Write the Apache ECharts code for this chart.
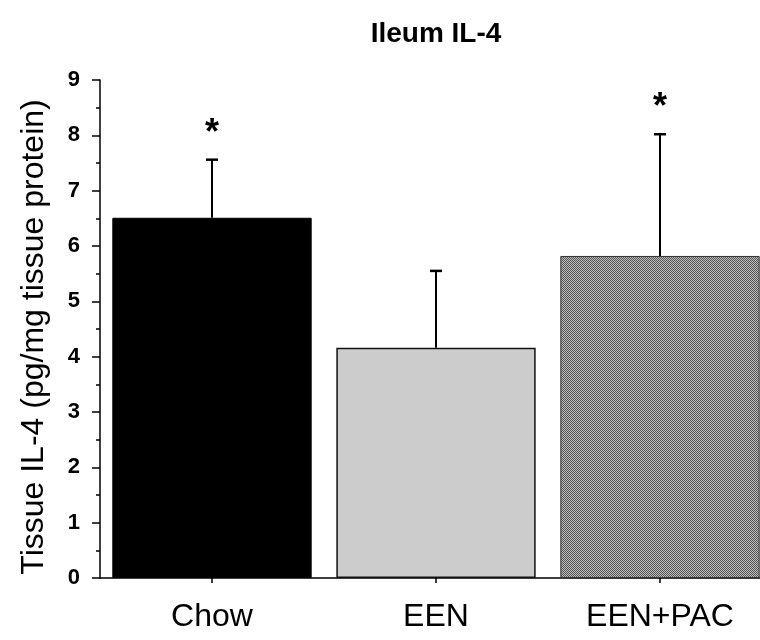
<!DOCTYPE html>
<html>
<head>
<meta charset="utf-8">
<script src="https://cdn.jsdelivr.net/npm/echarts@6/dist/echarts.min.js"></script>
<style>
html,body{margin:0;padding:0;background:#fff;}
#chart{width:760px;height:640px;}
</style>
</head>
<body>
<div id="chart"></div>
<script>
const categories = ['Chow', 'EEN', 'EEN+PAC'];
const means = [6.51, 4.16, 5.82];
const errors = [1.05, 1.39, 2.20];
const marks = ['*', '', '*'];
const yMin = 0, yMax = 9, yInterval = 1;
const titleText = 'Ileum IL-4';
const yName = 'Tissue IL-4 (pg/mg tissue protein)';

const FONT = "'Liberation Sans', Arial, sans-serif";

// checker pattern for EEN+PAC bar
const pc = document.createElement('canvas');
pc.width = 2; pc.height = 2;
const pctx = pc.getContext('2d');
pctx.fillStyle = '#bdbdbd'; pctx.fillRect(0, 0, 2, 2);
pctx.fillStyle = '#555555'; pctx.fillRect(0, 0, 1, 1); pctx.fillRect(1, 1, 1, 1);

const barStyles = [
  { color: '#000000', borderColor: '#000000', borderWidth: 1 },
  { color: '#cccccc', borderColor: '#111111', borderWidth: 1.5 },
  { color: { image: pc, repeat: 'repeat' }, borderColor: '#333333', borderWidth: 1 }
];

const chart = echarts.init(document.getElementById('chart'), null, { renderer: 'canvas' });

chart.setOption({
  animation: false,
  backgroundColor: '#ffffff',
  title: {
    text: titleText,
    left: 431, top: 15, textAlign: 'center',
    textStyle: { fontFamily: FONT, fontSize: 28, fontWeight: 'bold', color: '#000' }
  },
  grid: { left: 100, top: 80, width: 672, height: 498, outerBoundsMode: 'none', containLabel: false },
  xAxis: {
    type: 'category',
    data: categories,
    axisLine: { show: true, lineStyle: { color: '#000', width: 1.5 } },
    axisTick: { show: true, alignWithLabel: true, length: 5, lineStyle: { color: '#000', width: 1.5 } },
    axisLabel: { color: '#000', fontFamily: FONT, fontSize: 32, margin: 23 }
  },
  yAxis: {
    type: 'value',
    min: yMin, max: yMax, interval: yInterval,
    name: yName,
    nameLocation: 'middle',
    nameGap: 50,
    nameTextStyle: { fontFamily: FONT, fontSize: 32, color: '#000', padding: [0, 16, 0, 0] },
    axisLine: { show: true, lineStyle: { color: '#000', width: 1.5 } },
    axisTick: { show: true, length: 8, lineStyle: { color: '#000', width: 1.5 } },
    minorTick: { show: true, splitNumber: 2, length: 4, lineStyle: { color: '#000', width: 1.5 } },
    splitLine: { show: false },
    minorSplitLine: { show: false },
    axisLabel: { color: '#000', fontFamily: FONT, fontSize: 22, fontWeight: 'bold', margin: 20 }
  },
  series: [
    {
      type: 'bar',
      barWidth: '89%',
      data: means.map((v, i) => ({ value: v, itemStyle: barStyles[i] })),
      z: 2
    },
    {
      type: 'custom',
      z: 3,
      clip: false,
      data: means.map((v, i) => [i, v, v + errors[i], marks[i]]),
      renderItem: function (params, api) {
        const i = api.value(0);
        const base = api.coord([i, api.value(1)]);
        const top = api.coord([i, api.value(2)]);
        const cap = 6;
        const children = [
          { type: 'line', shape: { x1: top[0], y1: base[1], x2: top[0], y2: top[1] }, style: { stroke: '#000', lineWidth: 2 } },
          { type: 'line', shape: { x1: top[0] - cap, y1: top[1], x2: top[0] + cap, y2: top[1] }, style: { stroke: '#000', lineWidth: 2.5 } }
        ];
        const m = marks[params.dataIndex];
        if (m) {
          children.push({
            type: 'text',
            style: { text: m, x: top[0], y: top[1] - 26, align: 'center', verticalAlign: 'middle', fontFamily: FONT, fontSize: 36, fontWeight: 'bold', fill: '#000' }
          });
        }
        return { type: 'group', children: children };
      }
    }
  ]
});
</script>
</body>
</html>
